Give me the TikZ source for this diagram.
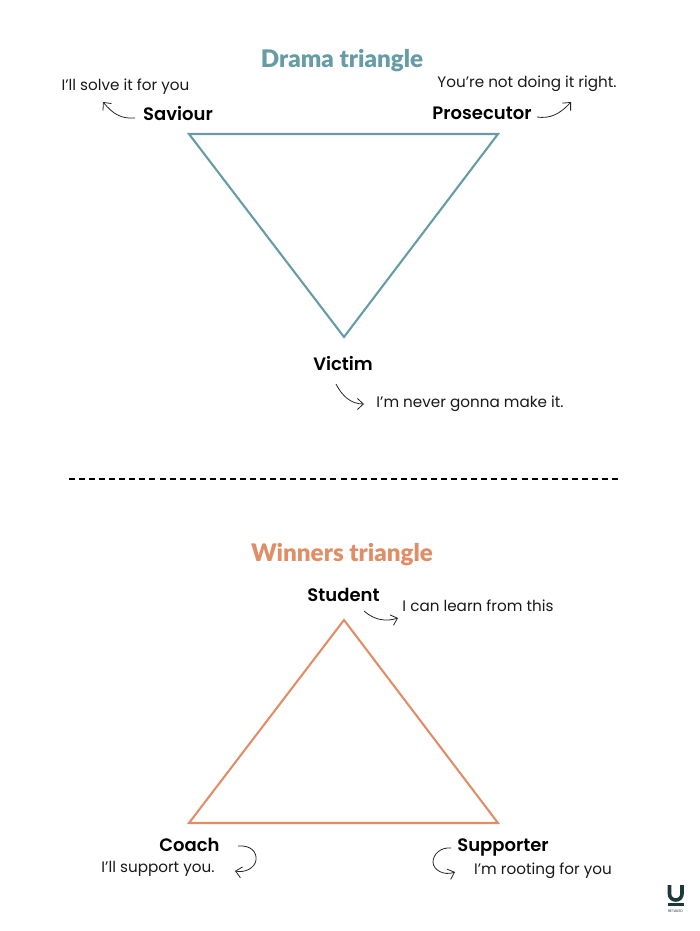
\documentclass[tikz,border=0pt]{standalone}
\usepackage{fontspec}
\usepackage{xcolor}
\setmainfont{Poppins}
\newfontfamily\rolefont{Poppins}[UprightFont=* SemiBold]
\newfontfamily\headfont{Lato}[UprightFont=* Black]
\usetikzlibrary{arrows.meta, positioning, calc}
\definecolor{dramateal}{RGB}{101,156,166}
\definecolor{winnerorange}{RGB}{224,142,104}
\definecolor{logogreen}{RGB}{28,58,58}

\begin{document}
\begin{tikzpicture}[
  x=1pt, y=-1pt,
  title/.style={font=\headfont\fontsize{24.2}{26}\selectfont, inner sep=0pt},
  role/.style={font=\rolefont\fontsize{18}{22}\selectfont, text=black, inner sep=0pt},
  quote/.style={font=\fontsize{15.2}{18}\selectfont, text=black!90, inner sep=0pt},
  curl/.style={-{Straight Barb[length=6pt,width=11pt]}, line width=0.8pt, black!85},
  tri/.style={line width=2.1pt, line join=miter}
]
\useasboundingbox (0,0) rectangle (700,931);

% top triangle
\node[title, text=dramateal] (dramatitle) at (342,60.5) {Drama triangle};
\coordinate (d1) at (189,134);
\coordinate (d2) at (498,134);
\coordinate (d3) at (344,337);
\draw[tri, dramateal] (d1)--(d2)--(d3)--cycle;

\node[role] (saviour) at (178,114) {Saviour};
\node[role] (prosecutor) at (482,113) {Prosecutor};
\node[role] (victim) at (343,364) {Victim};
\node[quote] (saviourq) at (125.5,87) {I’ll solve it for you};
\node[quote] (prosecutorq) at (527,84) {You’re not doing it right.};
\node[quote] (victimq) at (470,404) {I’m never gonna make it.};

\coordinate (s1) at (135,118);
\coordinate (s2) at (103,102);
\coordinate (p1) at (537,117);
\coordinate (p2) at (571,102);
\coordinate (v1) at (336,384);
\coordinate (v2) at (364,404);
\draw[curl] (s1) .. controls (121,119) and (113,114) .. (s2);
\draw[curl] (p1) .. controls (550,119) and (560,114) .. (p2);
\draw[curl] (v1) .. controls (342,396) and (351,404) .. (v2);

% divider
\coordinate (cut1) at (69,479);
\coordinate (cut2) at (618,479);
\draw[black, line width=1.2pt, dash pattern=on 6pt off 4.056pt] (cut1)--(cut2);

% bottom triangle
\node[title, text=winnerorange] (winnertitle) at (342,554.5) {Winners triangle};
\coordinate (w1) at (344,620);
\coordinate (w2) at (498,823);
\coordinate (w3) at (189,823);
\draw[tri, winnerorange] (w1)--(w2)--(w3)--cycle;

\node[role] (student) at (343.5,595) {Student};
\node[role] (coach) at (189.5,845) {Coach};
\node[role] (supporter) at (503,847) {Supporter};
\node[quote] (studentq) at (478,606) {I can learn from this};
\node[quote] (coachq) at (158,869) {I’ll support you.};
\node[quote] (supporterq) at (543,871) {I’m rooting for you};

\coordinate (t1) at (364,611);
\coordinate (t2) at (398,618);
\coordinate (c1) at (238,846);
\coordinate (c2) at (235,871);
\coordinate (u1) at (451,848);
\coordinate (u2) at (455,872);
\draw[curl] (t1) .. controls (374,620) and (386,622) .. (t2);
\draw[curl] (c1) .. controls (251,845) and (257,852) .. (256,860) .. controls (255,868) and (245,873) .. (c2);
\draw[curl] (u1) .. controls (441,847) and (433,854) .. (433,862) .. controls (433,870) and (444,876) .. (u2);

% logo
\coordinate (l1) at (669.5,885);
\coordinate (l2) at (682,885);
\draw[logogreen, line width=3.6pt] (l1)--++(0,9) arc[start angle=180, end angle=0, x radius=6.25pt, y radius=-6pt]--(l2);
\draw[logogreen, line width=3.2pt] (668,904.5)--(683.5,904.5);
\node[font=\fontsize{3.6}{4}\selectfont, text=logogreen, inner sep=0pt] (logotext) at (675.5,911) {RETAKED};
\end{tikzpicture}
\end{document}
